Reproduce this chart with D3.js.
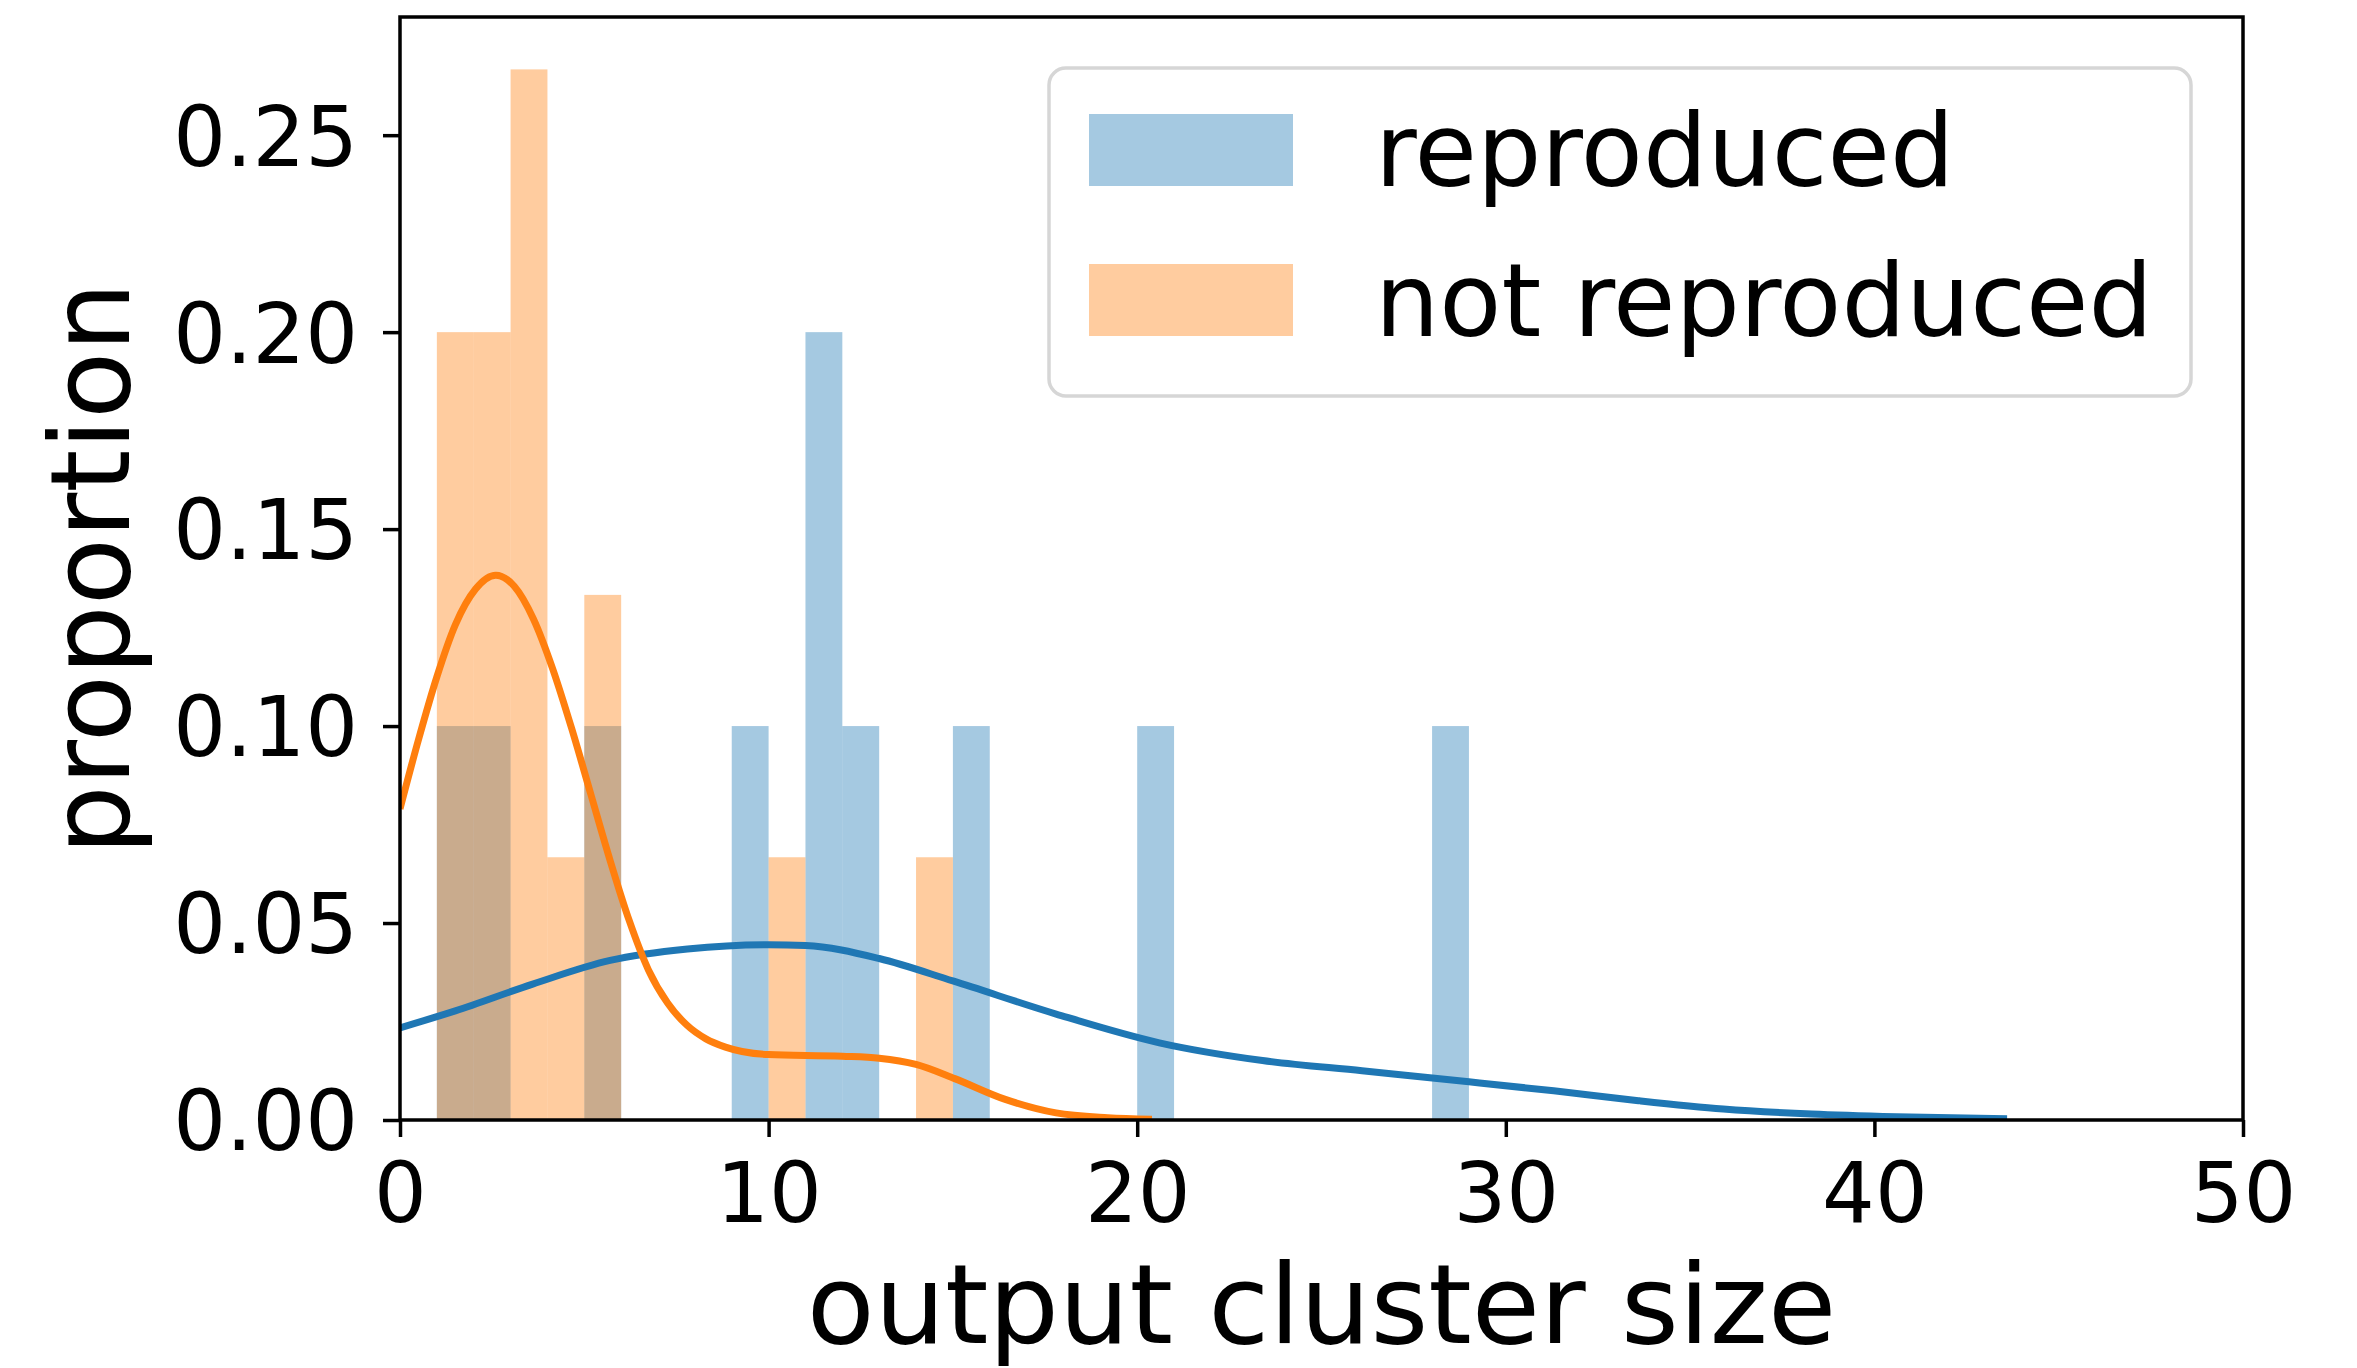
<!DOCTYPE html>
<html>
<head>
<meta charset="utf-8">
<script src="https://cdn.jsdelivr.net/npm/d3@7"></script>
<style>
  body { margin: 0; background: #fff; }
  svg { display: block; font-family: "DejaVu Sans", sans-serif; }
</style>
</head>
<body>
<div id="chart"></div>
<script>
// histogram bins (left edge, width 1) and their proportions
var reproducedBins = [1, 2, 5, 9, 11, 12, 15, 20, 28];
var reproducedValues = [0.1, 0.1, 0.1, 0.1, 0.2, 0.1, 0.1, 0.1, 0.1];
var notReproducedBins = [1, 2, 3, 4, 5, 10, 14];
var notReproducedValues = [0.2, 0.2, 0.2667, 0.0667, 0.1333, 0.0667, 0.0667];
var binWidth = 1;

// kde curves
var reproducedKdeX = [0, 1.5, 3.6, 5.7, 7.8, 10, 11, 13, 15, 17.8, 20.6, 23.4, 26.1, 29, 31.3, 33.6, 35.9, 38.3, 40.6, 43.6];
var reproducedKdeY = [0.0234, 0.0277, 0.0345, 0.0405, 0.0434, 0.0445, 0.0443, 0.0410, 0.0353, 0.0269, 0.0196, 0.0151, 0.0125, 0.0097, 0.0074, 0.0049, 0.0028, 0.0015, 0.0008, 0.0003];
var notReproducedKdeX = [0, 0.5, 1.0, 1.5, 2.05, 2.6, 3.1, 3.62, 4.14, 4.66, 5.18, 5.7, 6.22, 6.74, 7.26, 7.78, 8.3, 8.83, 10, 12, 13, 14, 15.05, 16.4, 17.8, 19.2, 20.4];
var notReproducedKdeY = [0.079, 0.0965, 0.1125, 0.1257, 0.1348, 0.1383, 0.1355, 0.1272, 0.1146, 0.0993, 0.0826, 0.0659, 0.0506, 0.0381, 0.0297, 0.0241, 0.0206, 0.0185, 0.0166, 0.0162, 0.0157, 0.0141, 0.0105, 0.0053, 0.0018, 0.0006, 0.0002];

var xTicks = [0, 10, 20, 30, 40, 50];
var yTicks = [0, 0.05, 0.10, 0.15, 0.20, 0.25];
var seriesNames = ["reproduced", "not reproduced"];
var seriesColors = ["#1f77b4", "#ff7f0e"];

var width = 2357, height = 1368;
var plot = { left: 400, right: 2243, top: 17, bottom: 1120 };

var x = d3.scaleLinear().domain([0, 50]).range([plot.left, plot.right]);
var y = d3.scaleLinear().domain([0, 0.28]).range([plot.bottom, plot.top]);

var svg;

createSVG();
createBars(reproducedBins, reproducedValues, seriesColors[0]);
createBars(notReproducedBins, notReproducedValues, seriesColors[1]);
createKde(reproducedKdeX, reproducedKdeY, seriesColors[0]);
createKde(notReproducedKdeX, notReproducedKdeY, seriesColors[1]);
createAxes();
createLegend();

function createSVG() {
  svg = d3.select("#chart")
    .append("svg")
      .attr("width", width)
      .attr("height", height);

  svg.append("rect")
    .attr("width", width)
    .attr("height", height)
    .attr("fill", "#fff");

  svg.append("clipPath")
      .attr("id", "plot-clip")
    .append("rect")
      .attr("x", plot.left)
      .attr("y", plot.top)
      .attr("width", plot.right - plot.left)
      .attr("height", plot.bottom - plot.top);
}

function createBars(bins, values, color) {
  svg.append("g")
    .attr("clip-path", "url(#plot-clip)")
    .selectAll("rect")
    .data(bins)
    .enter()
      .append("rect")
      .attr("x", function(d) { return x(d); })
      .attr("width", function(d) { return x(d + binWidth) - x(d); })
      .attr("y", function(d, i) { return y(values[i]); })
      .attr("height", function(d, i) { return y(0) - y(values[i]); })
      .attr("fill", color)
      .attr("fill-opacity", 0.4);
}

function createKde(kdeX, kdeY, color) {
  var line = d3.line()
    .x(function(d) { return x(d); })
    .y(function(d, i) { return y(kdeY[i]); })
    .curve(d3.curveMonotoneX);

  svg.append("path")
    .attr("clip-path", "url(#plot-clip)")
    .attr("d", line(kdeX))
    .attr("fill", "none")
    .attr("stroke", color)
    .attr("stroke-width", 7)
    .attr("stroke-linejoin", "round");
}

function createAxes() {
  var xAxis = d3.axisBottom(x)
    .tickValues(xTicks)
    .tickFormat(d3.format("d"))
    .tickSize(17)
    .tickPadding(26);

  var yAxis = d3.axisLeft(y)
    .tickValues(yTicks)
    .tickFormat(d3.format(".2f"))
    .tickSize(17)
    .tickPadding(25);

  var gx = svg.append("g")
    .attr("transform", "translate(0," + plot.bottom + ")")
    .call(xAxis);
  var gy = svg.append("g")
    .attr("transform", "translate(" + plot.left + ",0)")
    .call(yAxis);

  [gx, gy].forEach(function(g) {
    g.select(".domain").remove();
    g.selectAll(".tick line").attr("stroke", "#000").attr("stroke-width", 3.5);
    g.selectAll(".tick text")
      .attr("fill", "#000")
      .style("font-size", "83px")
      .style("font-family", "DejaVu Sans");
  });
  gy.selectAll(".tick text").attr("dy", "0.36em");

  // frame
  svg.append("rect")
    .attr("x", plot.left)
    .attr("y", plot.top)
    .attr("width", plot.right - plot.left)
    .attr("height", plot.bottom - plot.top)
    .attr("fill", "none")
    .attr("stroke", "#000")
    .attr("stroke-width", 3.5);

  svg.append("text")
    .attr("x", (plot.left + plot.right) / 2)
    .attr("y", 1343)
    .attr("text-anchor", "middle")
    .style("font-size", "111px")
    .text("output cluster size");

  svg.append("text")
    .attr("transform", "translate(129," + (plot.top + plot.bottom) / 2 + ") rotate(-90)")
    .attr("text-anchor", "middle")
    .style("font-size", "110px")
    .text("proportion");
}

function createLegend() {
  var legend = svg.append("g");

  legend.append("rect")
    .attr("x", 1049)
    .attr("y", 68)
    .attr("width", 1142)
    .attr("height", 328)
    .attr("rx", 17)
    .attr("fill", "#fff")
    .attr("fill-opacity", 0.8)
    .attr("stroke", "#d6d6d6")
    .attr("stroke-width", 3.5);

  var items = legend.selectAll("g.legend-item")
    .data(seriesNames)
    .enter()
      .append("g")
      .attr("class", "legend-item")
      .attr("transform", function(d, i) { return "translate(0," + (i * 150) + ")"; });

  items.append("rect")
    .attr("x", 1089)
    .attr("y", 114)
    .attr("width", 204)
    .attr("height", 72)
    .attr("fill", function(d, i) { return seriesColors[i]; })
    .attr("fill-opacity", 0.4);

  items.append("text")
    .attr("x", 1375)
    .attr("y", 186)
    .style("font-size", "101.5px")
    .text(function(d) { return d; });
}
</script>
</body>
</html>
